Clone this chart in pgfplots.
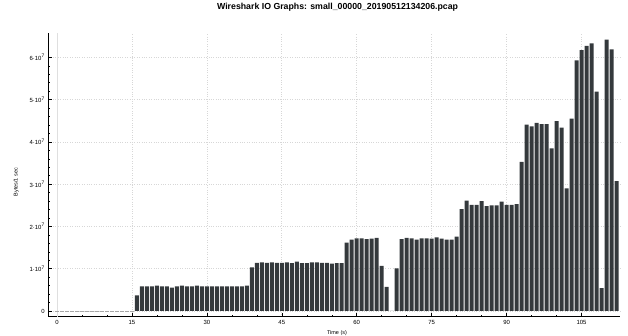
\documentclass[border=0pt]{standalone}
\usepackage{pgfplots}
\pgfplotsset{compat=1.18}
\usepackage{pgfplotstable}
\usepackage{fontspec}
\setmainfont{Liberation Sans}

\definecolor{barfill}{RGB}{52,57,60}
\definecolor{gridgray}{RGB}{215,215,215}

% bytes per 1 s interval, in units of 10^7
\pgfplotstableread{
t rate
16 0.37
17 0.58
18 0.58
19 0.58
20 0.60
21 0.58
22 0.58
23 0.55
24 0.58
25 0.60
26 0.58
27 0.58
28 0.60
29 0.58
30 0.58
31 0.58
32 0.58
33 0.58
34 0.58
35 0.58
36 0.58
37 0.58
38 0.60
39 1.03
40 1.14
41 1.15
42 1.14
43 1.15
44 1.14
45 1.14
46 1.15
47 1.13
48 1.17
49 1.13
50 1.13
51 1.15
52 1.15
53 1.14
54 1.14
55 1.12
56 1.13
57 1.13
58 1.62
59 1.69
60 1.72
61 1.72
62 1.70
63 1.71
64 1.73
65 1.07
66 0.57
67 0
68 1.01
69 1.70
70 1.73
71 1.72
72 1.69
73 1.72
74 1.72
75 1.71
76 1.74
77 1.71
78 1.69
79 1.69
80 1.76
81 2.41
82 2.61
83 2.51
84 2.51
85 2.60
86 2.48
87 2.50
88 2.50
89 2.59
90 2.51
91 2.51
92 2.53
93 3.53
94 4.41
95 4.37
96 4.45
97 4.42
98 4.42
99 3.85
100 4.49
101 4.34
102 2.90
103 4.55
104 5.93
105 6.17
106 6.27
107 6.33
108 5.19
109 0.54
110 6.42
111 6.19
112 3.07
}\iorate

\begin{document}
\begin{tikzpicture}
\path[use as bounding box] (0,0) rectangle (628bp,336bp);
\begin{axis}[
  at={(48.3bp,19.3bp)}, anchor=south west,
  scale only axis, width=571.7bp, height=283.4bp,
  xmin=-1.74, xmax=112.7, ymin=-0.135, ymax=6.57,
  axis x line*=bottom, axis y line*=left,
  axis line style={black, line width=0.8bp, -},
  tick align=inside,
  major tick length=4bp, minor tick length=2bp,
  tick style={black, line width=0.5bp},
  xtick={0,15,...,105}, minor x tick num=2,
  ytick={0,1,...,6}, minor y tick num=4,
  yticklabels={0, 1·10\textsuperscript{7}, 2·10\textsuperscript{7}, 3·10\textsuperscript{7}, 4·10\textsuperscript{7}, 5·10\textsuperscript{7}, 6·10\textsuperscript{7}},
  /pgf/number format/assume math mode=true,
  tick label style={font=\fontsize{6}{7}\selectfont},
  grid=major,
  major grid style={gridgray, dotted, line width=0.6bp},
  extra x ticks={0}, extra x tick labels={},
  extra x tick style={major grid style={solid, gray!25, line width=0.9bp}, major tick length=0pt},
  title={Wireshark IO Graphs: small\_00000\_20190512134206.pcap},
  title style={font=\bfseries\fontsize{8.8}{10}\selectfont, at={(axis description cs:0.506,1)}, anchor=center, yshift=20.3bp},
  xlabel={Time (s)},
  xlabel style={font=\fontsize{5.5}{6}\selectfont, at={(axis description cs:0.505,0)}, anchor=center, yshift=-16bp},
  ylabel={Bytes/1 sec},
  ylabel style={font=\fontsize{5.5}{6}\selectfont, at={(axis description cs:-0.056,0.475)}, anchor=center},
]
% empty intervals before the capture starts
\addplot[gray!70, line width=0.8bp, dash pattern=on 4bp off 1bp, forget plot]
  coordinates {(-0.4,0) (15.6,0)};
\addplot[ybar, bar width=0.8, bar shift=0pt, fill=barfill, draw=none]
  table[x=t, y=rate]{\iorate};
\end{axis}
\end{tikzpicture}
\end{document}
